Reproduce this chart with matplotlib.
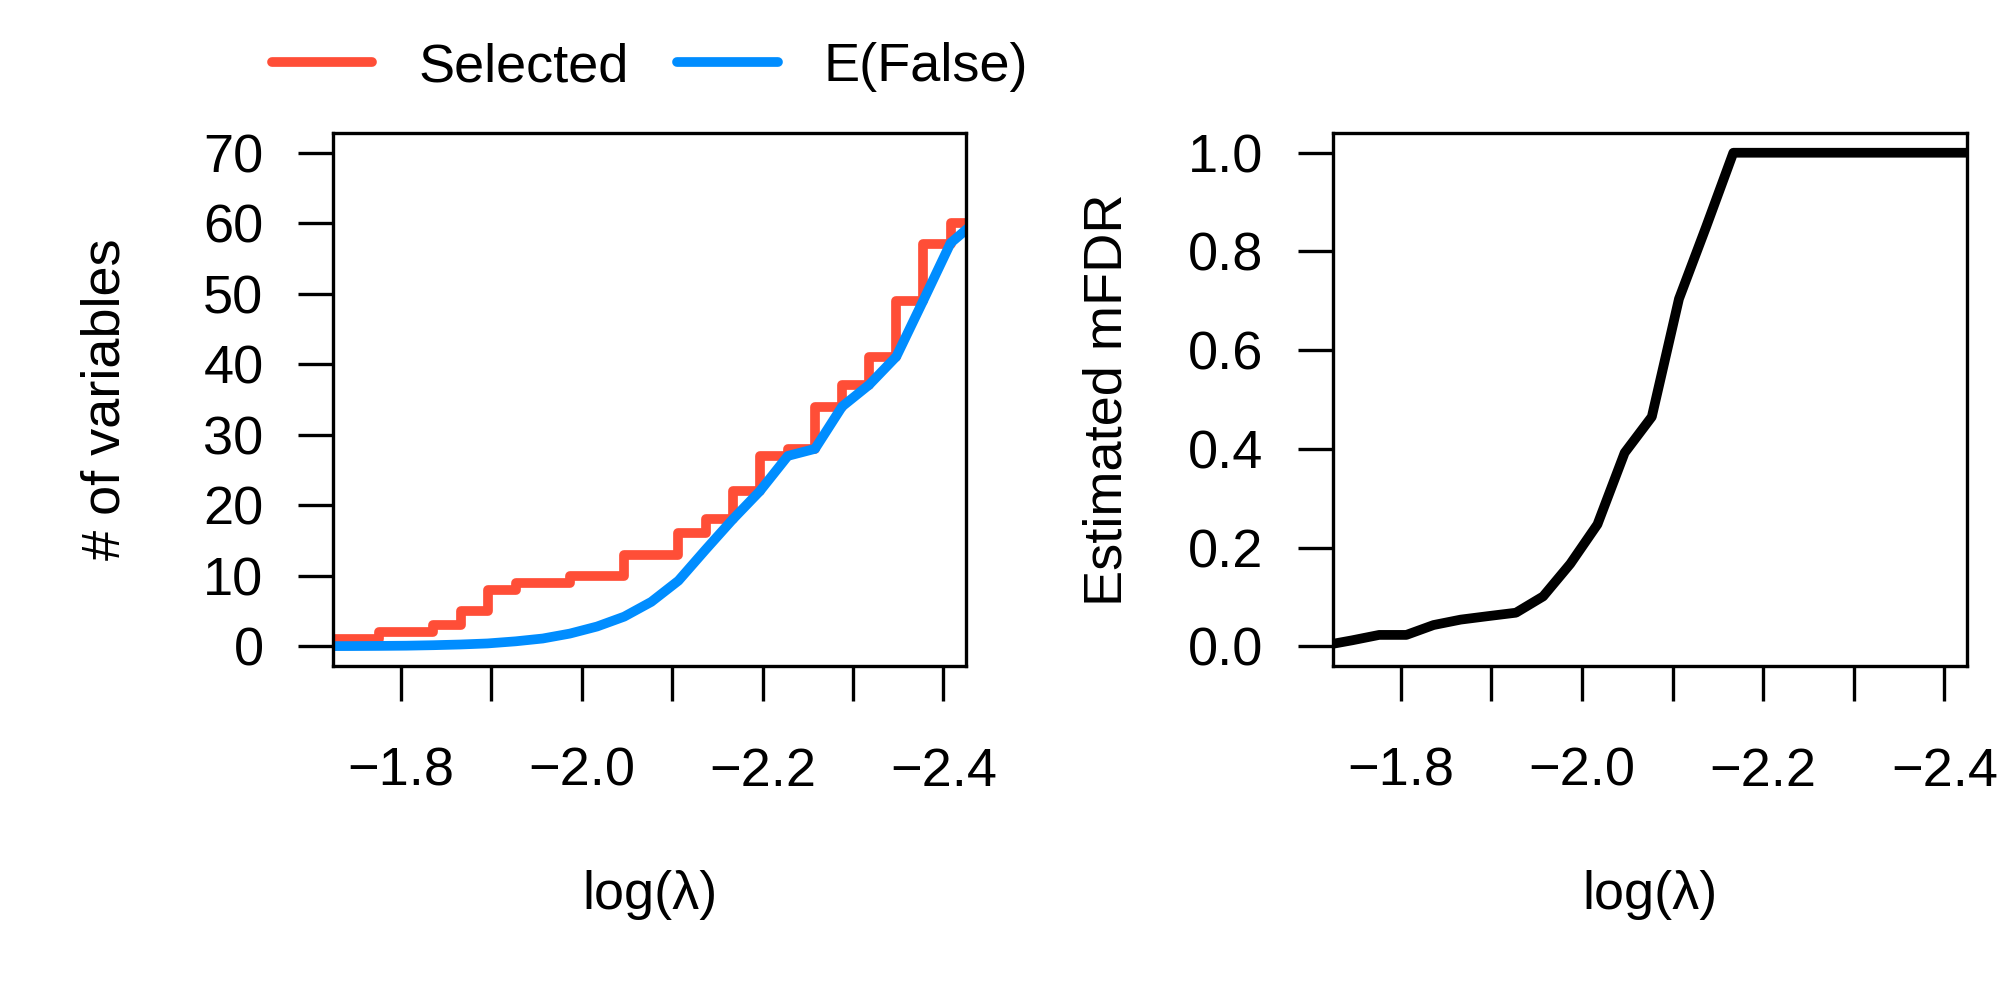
import numpy as np
import matplotlib
matplotlib.use("Agg")
import matplotlib.pyplot as plt
from matplotlib.lines import Line2D
from matplotlib.ticker import FixedLocator, FixedFormatter

plt.rcParams['font.family'] = ['Liberation Sans', 'DejaVu Sans']

# values (log lambda grid, decreasing)
log_lambda = [-1.716, -1.746, -1.776, -1.806, -1.836, -1.866, -1.896, -1.927,
              -1.957, -1.987, -2.017, -2.047, -2.077, -2.107, -2.137, -2.167,
              -2.197, -2.228, -2.258, -2.288, -2.318, -2.348, -2.378, -2.408,
              -2.438]
selected = [1, 1, 2, 2, 3, 5, 8, 9, 9, 10, 10, 13, 13, 16, 18, 22,
            27, 28, 34, 37, 41, 49, 57, 60, 60]
e_false = [0.02, 0.03, 0.05, 0.08, 0.15, 0.25, 0.4, 0.7, 1.1, 1.8, 2.8, 4.2,
           6.3, 9.3, 13.7, 18.0, 22.0, 27.0, 28.0, 34.0, 37.1, 41.1, 49.1,
           57.2, 60.5]
mfdr = [0.002, 0.012, 0.023, 0.023, 0.043, 0.054, 0.061, 0.068, 0.101,
        0.167, 0.247, 0.392, 0.465, 0.704, 0.850, 1.0, 1.0, 1.0, 1.0, 1.0,
        1.0, 1.0, 1.0, 1.0, 1.0]

x_ticks = [-1.8, -1.9, -2.0, -2.1, -2.2, -2.3, -2.4]
x_ticklabels = ['\u22121.8', '', '\u22122.0', '', '\u22122.2', '', '\u22122.4']
left_yticks = [0, 10, 20, 30, 40, 50, 60, 70]
right_yticks = [0.0, 0.2, 0.4, 0.6, 0.8, 1.0]

red = '#FF4E37'
blue = '#008DFF'
fs = 39
lw = 7

fig = plt.figure(figsize=(20, 10), dpi=100)
ax1 = fig.add_axes([0.1665, 0.334, 0.3165, 0.533])
ax2 = fig.add_axes([0.6665, 0.334, 0.317, 0.533])


def style(ax, yticks, ylabels):
    ax.set_xlim(-1.725, -2.425)
    ax.xaxis.set_major_locator(FixedLocator(x_ticks))
    ax.xaxis.set_major_formatter(FixedFormatter(x_ticklabels))
    ax.set_yticks(yticks)
    ax.set_yticklabels(ylabels)
    for s in ax.spines.values():
        s.set_linewidth(2.4)
    ax.tick_params(axis='both', direction='out', length=25, width=2.4,
                   labelsize=fs)
    ax.tick_params(axis='x', pad=33)
    ax.tick_params(axis='y', pad=25)
    ax.set_xlabel('log(\u03bb)', fontsize=fs, va='center')
    ax.xaxis.set_label_coords(0.5, -0.43)


ax1.plot(log_lambda, selected, drawstyle='steps-post', color=red, lw=lw,
         solid_joinstyle='round')
ax1.plot(log_lambda, e_false, color=blue, lw=lw, solid_joinstyle='round')
ax1.set_ylim(-2.8, 72.8)
style(ax1, left_yticks, [str(v) for v in left_yticks])
ax1.set_ylabel('# of variables', fontsize=fs, va='center')
ax1.yaxis.set_label_coords(-0.359, 0.5)

ax2.plot(log_lambda, mfdr, color='black', lw=lw, solid_joinstyle='round')
ax2.set_ylim(-0.04, 1.04)
style(ax2, right_yticks, ['%.1f' % v for v in right_yticks])
ax2.set_ylabel('Estimated mFDR', fontsize=fs, va='center')
ax2.yaxis.set_label_coords(-0.355, 0.5)

handles = [Line2D([], [], color=red, lw=lw, solid_capstyle='round'),
           Line2D([], [], color=blue, lw=lw, solid_capstyle='round')]
fig.legend(handles, ['Selected', 'E(False)'], loc='center left',
           bbox_to_anchor=(0.136, 0.933), ncol=2, frameon=False,
           fontsize=fs, handlelength=1.85, handletextpad=0.85,
           columnspacing=0.9, borderpad=0, borderaxespad=0)

fig.savefig('out.png', dpi=100)
